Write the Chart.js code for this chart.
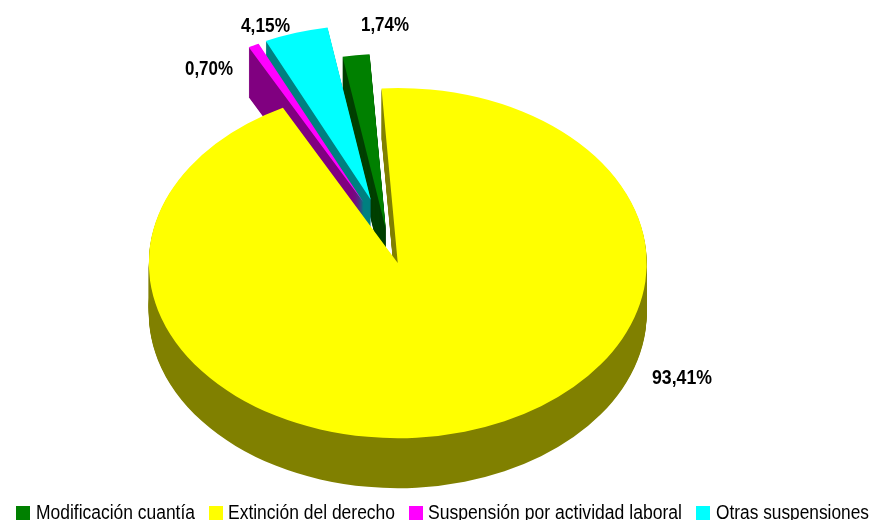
<!DOCTYPE html>
<html>
<head>
<meta charset="utf-8">
<style>html,body{margin:0;padding:0;background:#fff}canvas{display:block}</style>
<script src="https://cdn.jsdelivr.net/npm/chart.js@4"></script>
</head>
<body>
<canvas id="c" width="872" height="520"></canvas>
<script>
const categories = ['Modificación cuantía', 'Extinción del derecho', 'Suspensión por actividad laboral', 'Otras suspensiones'];
const values = [1.74, 93.41, 0.70, 4.15];
const topColors = ['#008000', '#FFFF00', '#FF00FF', '#00FFFF'];
const wallColors = ['#004000', '#808000', '#800080', '#008080'];
const explode = [10, 40, 53, 54];
const drawOrder = [0, 3, 2, 1];
const valueLabelPos = [[361, 31, 48], [652, 384, 60], [185, 75, 48], [241, 32, 49]];
const legendPos = [[16, 36, 159], [209, 228, 167], [409, 428, 254], [696, 716, 153]];

const pie3d = {
  id: 'pie3d',
  beforeDatasetsDraw(chart, args, o) {
    const ctx = chart.ctx;
    const arcs = chart.getDatasetMeta(0).data;
    const place = (arc, i, d) => {
      const mid = (arc.startAngle + arc.endAngle) / 2;
      const ex = Math.cos(mid) * explode[i];
      const ey = Math.sin(mid) * explode[i] * o.squash;
      ctx.translate(o.cx + ex, o.cy + ey + d);
      ctx.scale(1, o.squash);
      ctx.translate(-arc.x, -arc.y);
    };
    drawOrder.forEach(i => {
      const arc = arcs[i];
      const base = arc.options;
      arc.options = Object.assign({}, base, { backgroundColor: wallColors[i] });
      for (let d = o.depth; d >= 1; d--) {
        ctx.save();
        place(arc, i, d);
        arc.draw(ctx);
        ctx.restore();
      }
      arc.options = base;
      ctx.save();
      place(arc, i, 0);
      arc.draw(ctx);
      ctx.restore();
    });
    return false;
  },
  afterDraw(chart) {
    const ctx = chart.ctx;
    ctx.save();
    ctx.textBaseline = 'alphabetic';
    ctx.textAlign = 'left';
    ctx.fillStyle = '#000';
    ctx.font = 'bold 20px "Liberation Sans"';
    values.forEach((v, i) => {
      const [x, y, w] = valueLabelPos[i];
      ctx.fillText(v.toFixed(2).replace('.', ',') + '%', x, y, w);
    });
    ctx.font = '20px "Liberation Sans"';
    categories.forEach((c, i) => {
      const [bx, tx, w] = legendPos[i];
      ctx.fillStyle = topColors[i];
      ctx.fillRect(bx, 506, 14, 14);
      ctx.fillStyle = '#000';
      ctx.fillText(c, tx, 519, w);
    });
    ctx.restore();
  }
};

new Chart(document.getElementById('c'), {
  type: 'pie',
  data: {
    labels: categories,
    datasets: [{ data: values, backgroundColor: topColors, borderWidth: 0 }]
  },
  options: {
    responsive: false,
    animation: false,
    events: [],
    radius: 249,
    rotation: -10,
    layout: { padding: 0 },
    plugins: {
      legend: { display: false },
      tooltip: { enabled: false },
      pie3d: { cx: 387, cy: 236, squash: 0.703, depth: 50 }
    }
  },
  plugins: [pie3d]
});
</script>
</body>
</html>
